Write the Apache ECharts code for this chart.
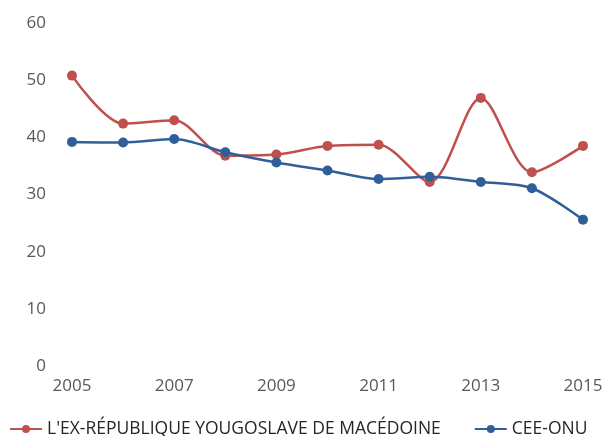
<!DOCTYPE html>
<html><head><meta charset="utf-8">
<script src="https://cdn.jsdelivr.net/npm/echarts@6/dist/echarts.min.js"></script>
<style>html,body{margin:0;padding:0;background:#fff}#c{width:607px;height:436px}</style>
</head><body><div id="c"></div>
<script>
const years = ['2005','2006','2007','2008','2009','2010','2011','2012','2013','2014','2015'];
const macedoine = [50.8,42.4,43.0,36.8,37.0,38.5,38.7,32.2,46.9,33.9,38.5];
const ceeOnu = [39.2,39.1,39.7,37.4,35.6,34.2,32.7,33.1,32.2,31.1,25.6];
const seriesNames = ["L'EX-RÉPUBLIQUE YOUGOSLAVE DE MACÉDOINE", 'CEE-ONU'];
const yTicks = {min:0, max:60, interval:10};

const font = 'Open Sans';
const chart = echarts.init(document.getElementById('c'));
chart.setOption({
  animation:false,
  grid:{left:72,right:24,top:23,bottom:70,containLabel:false},
  legend:{
    top:419,left:9,width:598,padding:[0,0,0,0],itemWidth:32,itemHeight:10,itemGap:33,
    textStyle:{fontFamily:font,fontSize:17.5,color:'#262626',lineHeight:20},
    data:seriesNames
  },
  xAxis:{
    type:'category',data:years,boundaryGap:false,
    axisLine:{show:false},axisTick:{show:false},
    axisLabel:{interval:1,fontFamily:font,fontSize:17,color:'#595959',margin:12}
  },
  yAxis:{
    type:'value',min:yTicks.min,max:yTicks.max,interval:yTicks.interval,
    splitLine:{show:false},axisLine:{show:false},axisTick:{show:false},
    axisLabel:{fontFamily:font,fontSize:17,color:'#595959',margin:26}
  },
  series:[
    {name:seriesNames[0],type:'line',data:macedoine,smooth:0.3,symbol:'circle',symbolSize:10,
     lineStyle:{color:'#C0504D',width:2.5},itemStyle:{color:'#C0504D'}},
    {name:seriesNames[1],type:'line',data:ceeOnu,smooth:0.3,symbol:'circle',symbolSize:10,
     lineStyle:{color:'#2F5F98',width:2.5},itemStyle:{color:'#2F5F98'}}
  ]
});
</script></body></html>
